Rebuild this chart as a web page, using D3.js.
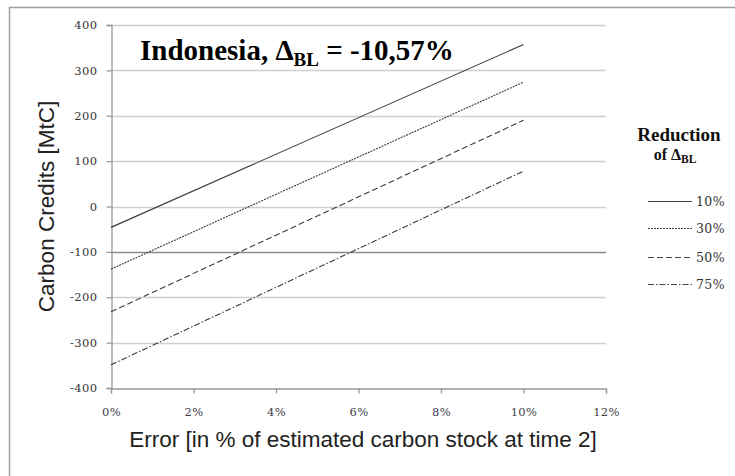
<!DOCTYPE html>
<html>
<head>
<meta charset="utf-8">
<script src="https://cdn.jsdelivr.net/npm/d3@7"></script>
<style>
  html, body { margin: 0; padding: 0; background: #fff; }
  svg { display: block; }
</style>
</head>
<body>
<svg id="chart" width="735" height="476"></svg>
<script>
// Reduction scenarios of the baseline change (Δ_BL)
const seriesNames = ["10%", "30%", "50%", "75%"];
// Error level in % of estimated carbon stock at time 2
const errorPct = [0, 10];
// Carbon credits [MtC] at each error level, one array per scenario
const credits10 = [-46, 357];
const credits30 = [-138, 274];
const credits50 = [-232, 190];
const credits75 = [-349, 78];
const creditSeries = [credits10, credits30, credits50, credits75];
// Axis ticks
const xTicks = [0, 2, 4, 6, 8, 10, 12];
const yTicks = [-400, -300, -200, -100, 0, 100, 200, 300, 400];
const dashes = ["none", "2,1", "6,3", "6,2,1.5,2"];

const serif = "'Liberation Serif', 'Times New Roman', serif";
const wideSerif = "'DejaVu Serif', serif";
const sans = "'Liberation Sans', Arial, sans-serif";

const svg = d3.select("#chart");
const plotLeft = 111, plotRight = 606, plotTop = 25, plotBottom = 388;

const x = d3.scaleLinear().domain([0, 12]).range([plotLeft, plotRight]);
const y = d3.scaleLinear().domain([-400, 400]).range([plotBottom, plotTop]);

// outer frame
svg.append("path")
  .attr("d", `M9.5,476 L9.5,7.5 L735,7.5`)
  .attr("fill", "none").attr("stroke", "#a0a0a0").attr("stroke-width", 1.5);

// horizontal gridlines
svg.append("g").selectAll("line").data(yTicks.filter(v => v !== -400)).join("line")
  .attr("x1", plotLeft).attr("x2", plotRight)
  .attr("y1", d => Math.round(y(d)) + 0.5).attr("y2", d => Math.round(y(d)) + 0.5)
  .attr("stroke", d => d === -100 ? "#8c8c8c" : "#cfcfcf")
  .attr("stroke-width", 1.3);

// y axis
const yAxis = d3.axisLeft(y).tickValues(yTicks).tickSize(5).tickPadding(9).tickFormat(d => String(d));
const gy = svg.append("g").attr("transform", `translate(${plotLeft + 0.5},0)`).call(yAxis);
gy.select(".domain").attr("stroke", "#999").attr("stroke-width", 1.3);
gy.selectAll(".tick line").attr("stroke", "#999").attr("stroke-width", 1.3);
gy.selectAll(".tick text")
  .attr("font-family", wideSerif).attr("letter-spacing", 0.4)
  .attr("font-size", 11.5).attr("fill", "#333");

// x axis
const xAxis = d3.axisBottom(x).tickValues(xTicks).tickSize(5).tickPadding(14).tickFormat(d => d + "%");
const gx = svg.append("g").attr("transform", `translate(0,${plotBottom + 0.5})`).call(xAxis);
gx.select(".domain").attr("stroke", "#999").attr("stroke-width", 1.3);
gx.selectAll(".tick line").attr("stroke", "#999").attr("stroke-width", 1.3);
gx.selectAll(".tick text")
  .attr("font-family", wideSerif).attr("letter-spacing", 0.4)
  .attr("font-size", 11.5).attr("fill", "#3d3d48");

// scenario lines
const line = d3.line().x((d, i) => x(errorPct[i])).y(d => y(d));
svg.append("g").selectAll("path").data(creditSeries).join("path")
  .attr("d", d => line(d))
  .attr("fill", "none")
  .attr("stroke", "#3a3a3a")
  .attr("stroke-width", 1.1)
  .attr("stroke-dasharray", (d, i) => dashes[i]);

// title
const title = svg.append("text")
  .attr("x", 140).attr("y", 60)
  .attr("font-family", serif)
  .attr("font-weight", "bold").attr("font-size", 29).attr("fill", "#000");
title.append("tspan").text("Indonesia, Δ");
title.append("tspan").attr("font-size", 19).attr("dy", 6).text("BL");
title.append("tspan").attr("dy", -6).text(" = -10,57%");

// axis titles
svg.append("text")
  .attr("transform", `translate(54,${(plotTop + plotBottom) / 2}) rotate(-90)`)
  .attr("text-anchor", "middle")
  .attr("font-family", sans)
  .attr("font-size", 22.5).attr("fill", "#222")
  .text("Carbon Credits [MtC]");

svg.append("text")
  .attr("x", 363).attr("y", 447)
  .attr("text-anchor", "middle")
  .attr("font-family", sans)
  .attr("font-size", 22.5).attr("fill", "#222")
  .text("Error [in % of estimated carbon stock at time 2]");

// legend
const legend = svg.append("g").attr("font-family", serif);
legend.append("text")
  .attr("x", 679).attr("y", 141).attr("text-anchor", "middle")
  .attr("font-weight", "bold").attr("font-size", 19).attr("fill", "#111")
  .text("Reduction");
const lh = legend.append("text")
  .attr("x", 675).attr("y", 160).attr("text-anchor", "middle")
  .attr("font-weight", "bold").attr("font-size", 16).attr("fill", "#111");
lh.append("tspan").text("of Δ");
lh.append("tspan").attr("font-size", 11.5).attr("dy", 3).text("BL");

const legendY = [201, 228, 257, 284];
const items = legend.selectAll("g.item").data(seriesNames).join("g")
  .attr("class", "item")
  .attr("transform", (d, i) => `translate(0,${legendY[i]})`);
items.append("line")
  .attr("x1", 648).attr("x2", 692).attr("y1", 0.5).attr("y2", 0.5)
  .attr("stroke", "#444").attr("stroke-width", 1.1)
  .attr("stroke-dasharray", (d, i) => dashes[i]);
items.append("text")
  .attr("x", 696).attr("y", 4.5)
  .attr("font-family", wideSerif)
  .attr("font-size", 12.5).attr("letter-spacing", 0.4).attr("fill", "#333")
  .text(d => d);
</script>
</body>
</html>
